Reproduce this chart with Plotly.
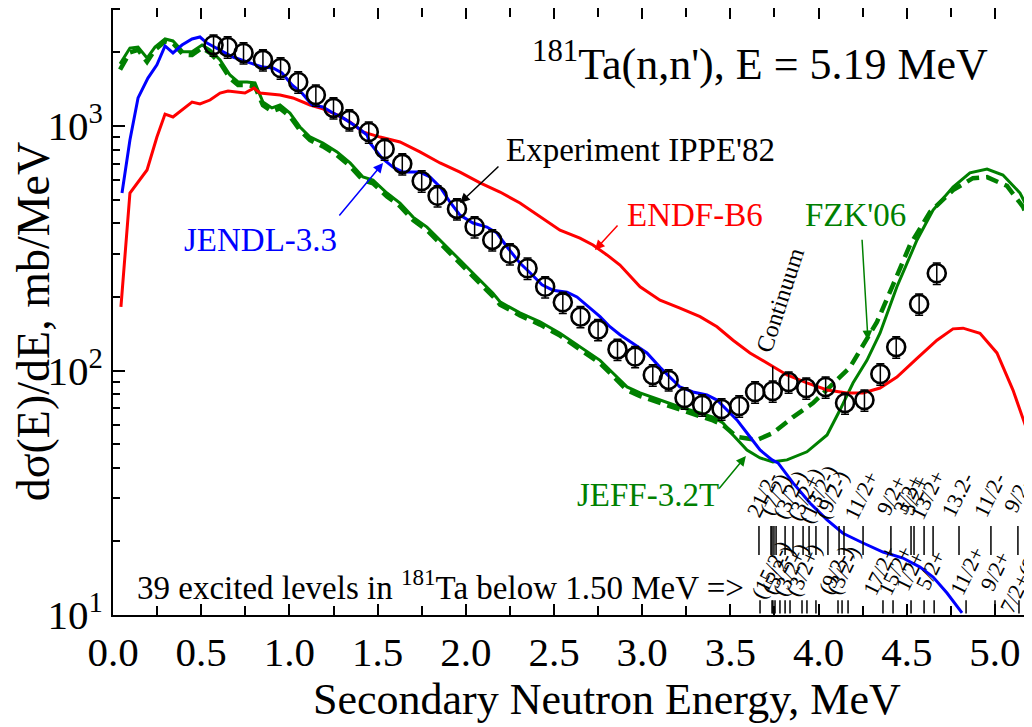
import math
import plotly.graph_objects as go

# ---------------- data ----------------
exp_E = [0.57, 0.65, 0.74, 0.85, 0.95, 1.05, 1.15, 1.25, 1.34, 1.45, 1.54, 1.64, 1.75, 1.84,
         1.95, 2.05, 2.15, 2.25, 2.35, 2.45, 2.55, 2.65, 2.75, 2.86, 2.96, 3.06, 3.15, 3.24,
         3.34, 3.45, 3.55, 3.64, 3.74, 3.83, 3.93, 4.04, 4.15, 4.26, 4.35, 4.44, 4.57, 4.67]
exp_v = [2143, 2105, 1990, 1864, 1727, 1514, 1339, 1186, 1059, 945, 805, 700, 596, 518,
         458, 387, 342, 300, 262, 220, 190, 166, 147, 122, 114, 95.9, 91.5, 77.2,
         72.3, 69.6, 71.6, 81.7, 82.4, 89.7, 84.8, 85.6, 73.6, 75.7, 96.8, 124.8, 187, 250]

jendl_E = [0.051, 0.096, 0.142, 0.198, 0.249, 0.295, 0.340, 0.391, 0.448, 0.493, 0.533, 0.607,
           0.680, 0.777, 0.850, 0.907, 0.958, 1.015, 1.071, 1.128, 1.190, 1.247, 1.304, 1.383,
           1.440, 1.457, 1.525, 1.587, 1.644, 1.740, 1.797, 1.854, 1.910, 1.967, 2.041, 2.120,
           2.177, 2.234, 2.307, 2.364, 2.432, 2.494, 2.574, 2.630, 2.761, 2.817, 2.874, 2.948,
           3.027, 3.101, 3.158, 3.214, 3.288, 3.367, 3.424, 3.481, 3.537, 3.594, 3.668, 3.736,
           3.770, 3.855, 3.951, 4.048, 4.138, 4.252, 4.365, 4.478, 4.575, 4.649, 4.728, 4.813]
jendl_v = [532, 877, 1303, 1571, 1778, 2125, 1990, 2143, 2270, 2312, 2183, 2046,
           1915, 1811, 1742, 1727, 1648, 1472, 1365, 1219, 1196, 1130, 1079, 991,
           919, 852, 739, 679, 648, 648, 619, 563, 489, 432, 401, 386,
           365, 320, 275, 251, 224, 213, 209, 200, 166, 151, 140, 129,
           118, 103, 94.0, 85.6, 81.7, 79.4, 75.7, 68.9, 62.8, 55.5, 47.3, 43.1,
           41.9, 34.7, 28.7, 24.5, 21.6, 19.7, 18.1, 17.1, 15.7, 14.3, 12.3, 10.2]

endf_E = [0.045, 0.096, 0.193, 0.249, 0.295, 0.340, 0.448, 0.493, 0.550, 0.607, 0.652, 0.748,
          0.799, 0.833, 0.947, 1.020, 1.117, 1.190, 1.270, 1.344, 1.417, 1.514, 1.627, 1.740,
          1.854, 1.967, 2.081, 2.194, 2.307, 2.421, 2.534, 2.647, 2.721, 2.800, 2.874, 2.988,
          3.101, 3.214, 3.328, 3.424, 3.515, 3.611, 3.707, 3.821, 3.934, 4.048, 4.161, 4.252,
          4.348, 4.444, 4.558, 4.671, 4.762, 4.819, 4.915, 5.011, 5.102, 5.181, 5.227]
endf_v = [182, 532, 661, 901, 1119, 1089, 1253, 1230, 1277, 1364, 1390, 1364,
          1429, 1364, 1339, 1302, 1219, 1175, 1110, 1038, 945, 901, 860, 784,
          706, 648, 585, 537, 484, 424, 375, 348, 326, 297, 270, 220,
          194, 180, 166, 151, 133, 118, 107, 95.9, 89.0, 83.2, 80.9, 80.9,
          84.8, 94.0, 112, 133, 148, 149, 142, 118, 83.2, 57.2, 43]

fzk_E = [0.040, 0.096, 0.142, 0.193, 0.238, 0.295, 0.340, 0.397, 0.448, 0.505, 0.550, 0.607,
         0.663, 0.709, 0.760, 0.805, 0.850, 0.901, 0.947, 1.003, 1.060, 1.117, 1.190, 1.270,
         1.344, 1.417, 1.474, 1.553, 1.627, 1.701, 1.780, 1.854, 1.927, 2.007, 2.081, 2.154,
         2.194, 2.307, 2.421, 2.534, 2.647, 2.761, 2.834, 2.914, 2.988, 3.101, 3.214, 3.328,
         3.401, 3.458, 3.515, 3.594, 3.668, 3.741, 3.821, 3.934, 4.048, 4.121, 4.195, 4.274,
         4.348, 4.444, 4.558, 4.649, 4.762, 4.858, 4.955, 5.045, 5.142, 5.210, 5.255]
fzk_v = [1795, 2084, 2103, 1897, 2103, 2269, 2228, 2010, 2010, 2145, 2046, 1864,
         1617, 1514, 1514, 1500, 1254, 1186, 1219, 1130, 991, 902, 852, 783,
         706, 619, 601, 532, 484, 424, 386, 342, 303, 265, 234, 207,
         191, 172, 158, 142, 125, 110, 97.7, 85.7, 81.0, 75.7, 70.9, 67.0,
         64.5, 61.0, 54.5, 47.3, 43.9, 42.3, 43.1, 46.5, 54.5, 68.9, 88.9, 110,
         142, 220, 342, 453, 563, 643, 667, 630, 532, 425, 358]

jeff_E = [0.040, 0.096, 0.142, 0.193, 0.238, 0.295, 0.340, 0.397, 0.448, 0.505, 0.550, 0.607,
          0.663, 0.709, 0.760, 0.805, 0.850, 0.901, 0.947, 1.003, 1.060, 1.117, 1.190, 1.270,
          1.344, 1.417, 1.474, 1.553, 1.627, 1.701, 1.780, 1.854, 1.927, 2.007, 2.081, 2.154,
          2.194, 2.307, 2.421, 2.534, 2.647, 2.761, 2.834, 2.914, 2.988, 3.101, 3.214, 3.328,
          3.401, 3.458, 3.537, 3.651, 3.741, 3.855, 3.968, 4.082, 4.178, 4.235, 4.331, 4.422,
          4.518, 4.632, 4.762, 4.875, 4.955, 5.068, 5.159, 5.227]
jeff_v = [1700, 2000, 2050, 1830, 2050, 2220, 2180, 1960, 1950, 2090, 1990, 1810,
          1570, 1470, 1470, 1450, 1215, 1150, 1180, 1095, 960, 875, 825, 760,
          685, 600, 583, 515, 470, 412, 375, 332, 294, 257, 227, 201,
          186, 168, 154, 139, 122, 107, 95.0, 83.0, 78.5, 73.5, 68.8, 65.0,
          62.5, 59.9, 53.5, 52.0, 55.5, 64.5, 73.6, 88.9, 103, 121, 158, 224,
          326, 445, 547, 612, 618, 569, 467, 358]

# levels of 181Ta shown as secondary-energy markers (two rows)
levels_upper = [3.662, 3.730, 3.736, 3.747, 3.759, 3.810, 3.855, 3.912, 3.946, 3.985, 4.053,
                4.116, 4.144, 4.252, 4.410, 4.524, 4.541, 4.598, 4.649, 4.796, 4.977, 5.130]
levels_lower = [3.668, 3.736, 3.741, 3.753, 3.781, 3.810, 3.838, 3.906, 3.934, 3.985, 4.110,
                4.133, 4.167, 4.365, 4.422, 4.524, 4.598, 4.655, 4.836, 5.000, 5.136]
upper_label_E = [3.685, 3.753, 3.838, 3.923, 3.997, 4.076, 4.246, 4.416, 4.507, 4.546,
                 4.620, 4.790, 4.972, 5.130]
upper_labels = ["21/2-", "(7/2)", "(3/2-)", "(3/2+)", "(13/2-)", "(9/2-)", "11/2+", "9/2+",
                "3/2+", "5/2+", "13/2+", "13.2-", "11/2-", "9/2-"]
lower_label_E = [3.725, 3.770, 3.838, 3.912, 4.093, 4.138, 4.348, 4.433, 4.518, 4.632,
                 4.841, 5.000, 5.175]
lower_labels = ["(15/2-)", "(5/2-)", "(3/2+)", "(3/2+)", "(9/2-)", "(3/2-)", "17/2+", "15/2+",
                "1/2+", "5/2+", "11/2+", "9/2+", "7/2+(9/2-)"]

x_ticks = [0.0, 0.5, 1.0, 1.5, 2.0, 2.5, 3.0, 3.5, 4.0, 4.5, 5.0]
y_ticks = [10, 100, 1000]
y_ticktext = ["10<sup>1</sup>", "10<sup>2</sup>", "10<sup>3</sup>"]

# ---------------- figure ----------------
FONT = "Liberation Serif, Times New Roman, serif"
BLUE, RED, GREEN = "#0000ff", "#ff0000", "#008000"

fig = go.Figure()

fig.add_trace(go.Scatter(x=jeff_E, y=jeff_v, mode="lines",
                         line=dict(color=GREEN, width=4.5, dash="13px,7px"), showlegend=False))
fig.add_trace(go.Scatter(x=fzk_E, y=fzk_v, mode="lines",
                         line=dict(color=GREEN, width=3), showlegend=False))
fig.add_trace(go.Scatter(x=endf_E, y=endf_v, mode="lines",
                         line=dict(color=RED, width=3), showlegend=False))
fig.add_trace(go.Scatter(x=jendl_E, y=jendl_v, mode="lines",
                         line=dict(color=BLUE, width=3), showlegend=False))
fig.add_trace(go.Scatter(x=exp_E, y=exp_v, mode="markers",
                         marker=dict(symbol="circle-open", size=18, color="black",
                                     line=dict(width=2.6, color="black")),
                         error_y=dict(type="percent", value=10, color="black",
                                      thickness=1.5, width=4),
                         showlegend=False))

# level marker rows
def seg(levels, lo, hi):
    xs, ys = [], []
    for e in levels:
        xs += [e, e, None]
        ys += [lo, hi, None]
    return xs, ys

ux, uy = seg(levels_upper, 17.6, 23.1)
lx, ly = seg(levels_lower, 10.15, 11.5)
fig.add_trace(go.Scatter(x=ux, y=uy, mode="lines", line=dict(color="black", width=1.5),
                         showlegend=False, cliponaxis=False))
fig.add_trace(go.Scatter(x=lx, y=ly, mode="lines", line=dict(color="black", width=1.5),
                         showlegend=False, cliponaxis=False))
# continuum marker
fig.add_trace(go.Scatter(x=[3.74, 3.74], y=[104, 80], mode="lines",
                         line=dict(color="black", width=1.5), showlegend=False))

ann = []
def txt(x, y, t, size, color="black", angle=0, xanchor="center", xref="paper", yref="paper"):
    ann.append(dict(x=x, y=y, xref=xref, yref=yref, text=t, showarrow=False,
                    font=dict(family=FONT, size=size, color=color), textangle=angle,
                    xanchor=xanchor, yanchor="middle"))

def arrow(x, v, ax, ay, color):
    # log axis: annotation y is given as log10 of the value
    ann.append(dict(x=x, y=math.log10(v), xref="x", yref="y", ax=ax, ay=ay, text="",
                    showarrow=True, arrowhead=2, arrowsize=1.3, arrowwidth=1.5,
                    arrowcolor=color, standoff=0, startstandoff=0))

txt(0.704, 0.912, "<sup>181</sup>Ta(n,n'), E = 5.19 MeV", 44)
txt(0.5745, 0.766, "Experiment IPPE'82", 33)
txt(0.633, 0.659, "ENDF-B6", 33, RED)
txt(0.808, 0.659, "FZK'06", 33, GREEN)
txt(0.160, 0.618, "JENDL-3.3", 33, BLUE)
txt(0.582, 0.198, "JEFF-3.2T", 33, GREEN)
txt(0.024, 0.049, "39 excited levels in <sup>181</sup>Ta below 1.50 MeV =>", 33, xanchor="left")
txt(0.726, 0.519, "Continuum", 24, angle=-72)

arrow(1.967, 484, 40, -38, "black")
arrow(2.732, 311, 24, -26, RED)
arrow(4.280, 133, -6, -102, GREEN)
arrow(1.531, 706, -45, 54, BLUE)
arrow(3.588, 44.7, -28, 34, GREEN)

for e, t in zip(upper_label_E, upper_labels):
    ann.append(dict(x=e, y=0.198, xref="x", yref="paper", text=t, showarrow=False,
                    font=dict(family=FONT, size=22, color="black"), textangle=-64,
                    xanchor="center", yanchor="middle"))
for e, t in zip(lower_label_E, lower_labels):
    ann.append(dict(x=e, y=0.074, xref="x", yref="paper", text=t, showarrow=False,
                    font=dict(family=FONT, size=22, color="black"), textangle=-64,
                    xanchor="center", yanchor="middle"))

# axis titles
txt(0.5375, -0.14, "Secondary Neutron Energy, MeV", 44)
txt(-0.087, 0.484, "dσ(E)/dE, mb/MeV", 46, angle=-90)

# page body has an 8px margin, so the figure is sized/offset to put the plot area at
# x 113..1032, y 8..615 of the browser window
fig.update_layout(
    width=1024, height=719,
    margin=dict(l=105, r=0, t=0, b=112, autoexpand=False),
    paper_bgcolor="white", plot_bgcolor="white",
    font=dict(family=FONT, color="black"),
    annotations=ann,
    showlegend=False,
)
fig.update_xaxes(range=[0, 5.2098], tickvals=x_ticks, tickformat=".1f", automargin=False,
                 ticks="inside", ticklen=11, tickwidth=1.5, tickcolor="black",
                 minor=dict(dtick=0.25, tick0=0, ticks="inside", ticklen=9, tickwidth=1.5,
                            tickcolor="black"),
                 showline=True, linewidth=2, linecolor="black", mirror="allticks",
                 showgrid=False, zeroline=False,
                 tickfont=dict(family=FONT, size=41, color="black"))
fig.update_yaxes(type="log", range=[1, 3.4826], tickvals=y_ticks, ticktext=y_ticktext,
                 automargin=False,
                 ticks="inside", ticklen=12, tickwidth=1.5, tickcolor="black",
                 minor=dict(dtick="D1", ticks="inside", ticklen=7, tickwidth=1.5,
                            tickcolor="black"),
                 showline=True, linewidth=2, linecolor="black", mirror=False,
                 showgrid=False, zeroline=False,
                 tickfont=dict(family=FONT, size=41, color="black"))

fig.write_html("out.html")
